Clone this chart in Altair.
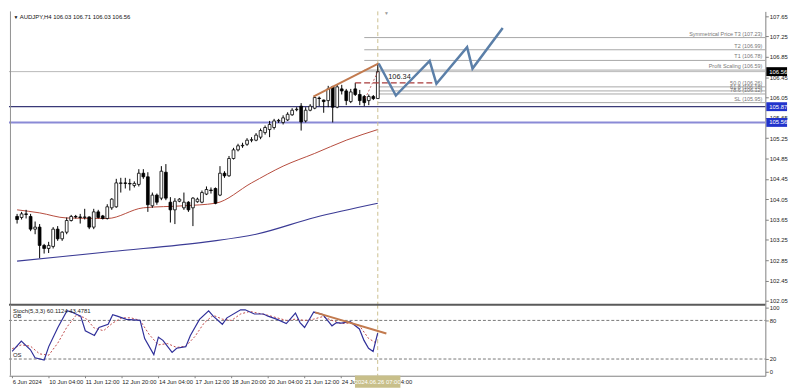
import altair as alt
import pandas as pd

W, H1, H2 = 766, 297, 72
FONT = "Liberation Sans"

# ---------------- data ----------------
bar_idx = list(range(81))
opens = [103.71, 103.69, 103.76, 103.71, 103.46, 103.50, 103.14, 103.08, 103.12, 103.46,
         103.27, 103.40, 103.63, 103.71, 103.70, 103.69, 103.70, 103.50, 103.80, 103.72,
         103.67, 103.88, 103.90, 104.36, 104.37, 104.36, 104.32, 104.34, 104.56, 104.49,
         103.92, 104.13, 104.07, 104.58, 103.99, 103.84, 104.01, 103.88, 103.99, 103.88,
         104.00, 103.99, 104.15, 104.23, 104.26, 104.13, 104.56, 104.51, 104.85, 105.02,
         105.10, 105.13, 105.21, 105.21, 105.27, 105.36, 105.42, 105.46, 105.59, 105.56,
         105.61, 105.71, 105.81, 105.88, 105.59, 105.80, 105.84, 106.04, 106.00, 105.99,
         106.26, 105.86, 106.22, 106.18, 105.97, 106.22, 106.11, 106.07, 105.99, 106.07,
         106.03]
highs = [103.76, 103.80, 103.84, 103.76, 103.61, 103.56, 103.17, 103.21, 103.50, 103.52,
         103.42, 103.69, 103.74, 103.74, 103.76, 103.86, 103.71, 103.86, 103.84, 103.74,
         103.95, 104.07, 104.45, 104.47, 104.47, 104.45, 104.40, 104.64, 104.64, 104.58,
         104.18, 104.16, 104.70, 104.74, 104.09, 104.07, 104.07, 104.18, 104.01, 104.09,
         104.08, 104.22, 104.30, 104.28, 104.28, 104.70, 104.60, 104.90, 105.06, 105.14,
         105.16, 105.25, 105.27, 105.35, 105.44, 105.50, 105.59, 105.63, 105.63, 105.70,
         105.76, 105.84, 105.86, 105.94, 105.86, 105.92, 106.08, 106.07, 106.01, 106.28,
         106.28, 106.30, 106.30, 106.22, 106.22, 106.34, 106.20, 106.10, 106.11, 106.10,
         106.71]
lows = [103.57, 103.65, 103.67, 103.42, 103.36, 102.89, 102.98, 102.99, 103.08, 103.23,
        103.23, 103.36, 103.61, 103.67, 103.57, 103.65, 103.46, 103.46, 103.67, 103.65,
        103.65, 103.84, 103.88, 104.18, 104.26, 104.22, 104.28, 104.30, 104.45, 103.80,
        103.88, 103.94, 104.03, 104.03, 103.59, 103.56, 103.99, 103.84, 103.80, 103.52,
        103.98, 103.97, 104.13, 104.16, 103.95, 104.11, 104.47, 104.49, 104.83, 104.99,
        105.06, 105.10, 105.17, 105.19, 105.23, 105.32, 105.27, 105.42, 105.55, 105.52,
        105.59, 105.69, 105.78, 105.40, 105.56, 105.78, 105.82, 105.88, 105.75, 105.86,
        105.56, 105.84, 106.11, 105.90, 105.94, 106.08, 105.90, 105.88, 105.90, 106.00,
        106.03]
closes = [103.65, 103.76, 103.75, 103.46, 103.50, 103.14, 103.08, 103.14, 103.46, 103.27,
          103.40, 103.63, 103.71, 103.70, 103.69, 103.70, 103.50, 103.80, 103.69, 103.67,
          103.90, 104.05, 104.37, 104.37, 104.36, 104.35, 104.36, 104.56, 104.49, 103.94,
          104.13, 103.99, 104.60, 104.07, 103.84, 104.01, 104.05, 103.99, 103.84, 104.07,
          104.05, 104.18, 104.24, 104.22, 103.97, 104.56, 104.51, 104.85, 105.02, 105.10,
          105.11, 105.21, 105.22, 105.31, 105.40, 105.46, 105.52, 105.59, 105.60, 105.65,
          105.72, 105.80, 105.82, 105.57, 105.80, 105.88, 106.05, 106.03, 105.97, 106.22,
          105.86, 106.26, 106.18, 105.99, 106.16, 106.11, 105.99, 105.95, 106.07, 106.03,
          106.56]

ma_red_idx = [0, 5, 11, 20, 28, 37, 44, 52, 59, 66, 73, 80]
ma_red = [103.84, 103.78, 103.68, 103.67, 103.88, 103.92, 103.97, 104.37, 104.70, 104.95, 105.21, 105.42]
ma_blue_idx = [0, 21, 42, 53, 66, 80]
ma_blue = [102.83, 103.02, 103.21, 103.36, 103.69, 103.97]

stoch_idx = [0, 2, 4, 5, 7, 8, 10, 12, 13, 15, 16, 18, 19, 21, 22, 23, 25, 28, 29, 31, 32, 33,
             35, 36, 38, 39, 41, 43, 44, 46, 47, 50, 51, 53, 55, 56, 58, 60, 62, 63, 64, 66,
             68, 70, 71, 72, 74, 76, 77, 78, 79, 80]
stoch_main = [31.8, 47.8, 34.3, 21.9, 18.4, 39.3, 69.0, 95.0, 93.0, 86.6, 64.0, 56.7, 69.0,
              74.0, 89.0, 86.6, 81.6, 80.0, 51.7, 26.9, 54.0, 49.0, 30.3, 36.8, 39.3, 56.7,
              81.6, 95.0, 86.6, 74.0, 84.0, 96.5, 96.5, 90.0, 90.0, 86.6, 81.6, 75.0, 91.5,
              76.6, 69.0, 93.0, 89.0, 71.6, 76.6, 75.8, 78.0, 66.7, 49.0, 36.8, 31.8, 60.1]
signal_idx = list(range(0, 81, 2))
stoch_signal = [36, 42, 40, 28, 26, 45, 70, 88, 84, 68, 64, 76, 84, 84, 80, 58, 42, 44, 38, 40,
                55, 76, 88, 82, 80, 90, 94, 91, 88, 84, 80, 82, 80, 82, 86, 80, 75, 76, 72, 52,
                43.5]

price_ticks = [102.05, 102.45, 102.85, 103.25, 103.65, 104.05, 104.45, 104.85,
               105.25, 105.65, 106.05, 106.45, 106.85, 107.25, 107.65]
time_tick_idx = [0, 8, 16, 24, 32, 40, 48, 56, 64, 72, 80]
time_labels = ["6 Jun 2024", "10 Jun 04:00", "11 Jun 12:00", "12 Jun 20:00", "14 Jun 04:00",
               "17 Jun 12:00", "18 Jun 20:00", "20 Jun 04:00", "21 Jun 12:00", "24 Jun 20:00",
               "26 Jun 04:00"]

full_line_prices = [106.56, 105.87, 105.56]
full_line_colors = ["#b8b8b8", "#3a3a78", "#8a8ad6"]
full_line_widths = [1, 1.2, 2]

level_prices = [107.23, 106.99, 106.78, 106.59, 106.26, 106.18, 106.12, 105.95]
level_labels = ["Symmetrical Price T3 (107.23)", "T2 (106.99)", "T1 (106.78)",
                "Profit Scaling (106.59)", "50.0 (106.26)", "61.8 (106.18)",
                "78.6 (106.12)", "SL (105.95)"]
level_start = [77, 77, 77, 77, 80, 80, 80, 80]

trend_idx = [65.7, 80.2]
trend_price = [106.07, 106.72]
dot_idx = [77.2, 80]
dot_price = [106.03, 106.56]
proj_idx = [80.2, 84, 91.5, 93, 99.8, 101, 107.7]
proj_price = [106.72, 106.09, 106.77, 106.32, 107.04, 106.62, 107.42]
stoch_trend_idx = [66.3, 81.9]
stoch_trend_val = [92.5, 59.7]

tag_prices = [106.56, 105.87, 105.56]
tag_colors = ["#000000", "#2233cc", "#2233cc"]

title_text = "AUDJPY,H4  106.03 106.71 106.03 106.56"
stoch_text = "Stoch(5,3,3) 60.1124 43.4781"
cursor_text = "2024.06.26 07:00"

# ---------------- scales / axes ----------------
xs = alt.Scale(domain=[-0.70, 164.85], nice=False, zero=False)
ys = alt.Scale(domain=[101.974, 107.745], nice=False, zero=False)
ss = alt.Scale(domain=[-6, 104.5], nice=False, zero=False)

price_axis = alt.Axis(orient="right", values=price_ticks, format=".2f", title=None, grid=False,
                      tickSize=3, tickColor="#808080", domainColor="#808080", labelFontSize=6,
                      labelColor="#222222", labelPadding=1, labelFont=FONT, labelOverlap=False)
stoch_axis = alt.Axis(orient="right", values=[0, 20, 80, 100], title=None, grid=False,
                      tickSize=3, tickColor="#808080", domainColor="#808080", labelFontSize=6,
                      labelColor="#222222", labelPadding=1, labelFont=FONT, labelOverlap=False,
                      labelFlush=False)
lab_expr = "[" + ",".join("'%s'" % s for s in time_labels) + "][round(datum.value/8)]"
time_axis = alt.Axis(values=time_tick_idx, labelExpr=lab_expr, title=None, grid=False,
                     labelAlign="left", labelFontSize=6, labelFont=FONT, labelColor="#222222",
                     tickSize=2, tickColor="#808080", domainColor="#808080", labelPadding=1,
                     labelOverlap=False, labelFlush=False)


def X(f):
    return alt.X(f"{f}:Q", scale=xs, axis=None, title=None)


def Y(f):
    return alt.Y(f"{f}:Q", scale=ys, axis=price_axis, title=None)


def XS(f):
    return alt.X(f"{f}:Q", scale=xs, axis=time_axis, title=None)


def YS(f):
    return alt.Y(f"{f}:Q", scale=ss, axis=stoch_axis, title=None)


# ---------------- main panel ----------------
df = pd.DataFrame(dict(i=bar_idx, o=opens, h=highs, l=lows, c=closes))

full_df = pd.DataFrame(dict(p=full_line_prices, col=full_line_colors, w=full_line_widths))
full_lines = alt.Chart(full_df).mark_rule().encode(
    x=alt.value(0), x2=alt.value(W), y=Y("p"),
    color=alt.Color("col:N", scale=None), strokeWidth=alt.StrokeWidth("w:Q", scale=None))

lv_df = pd.DataFrame(dict(p=level_prices, label=level_labels, s=level_start))
lv_lines = alt.Chart(lv_df).mark_rule(color="#a8a8a8", strokeWidth=1).encode(
    x=X("s"), x2=alt.value(W), y=Y("p"))
lv_text = alt.Chart(lv_df).mark_text(align="right", baseline="bottom", dy=-1, fontSize=5.5,
                                     font=FONT, color="#777777").encode(
    x=alt.value(W - 3), y=Y("p"), text="label:N")

red_df = pd.DataFrame(dict(i=ma_red_idx, p=ma_red))
red_ma = alt.Chart(red_df).mark_line(color="#b54a3c", strokeWidth=1, interpolate="monotone").encode(
    x=X("i"), y=Y("p"))
blue_df = pd.DataFrame(dict(i=ma_blue_idx, p=ma_blue))
blue_ma = alt.Chart(blue_df).mark_line(color="#3b3b95", strokeWidth=1.2, interpolate="monotone").encode(
    x=X("i"), y=Y("p"))

wicks = alt.Chart(df).mark_rule(color="black", strokeWidth=1).encode(x=X("i"), y=Y("l"), y2="h:Q")
bodies = alt.Chart(df).mark_bar(size=2.8, stroke="black", strokeWidth=0.8).encode(
    x=X("i"), y=Y("o"), y2="c:Q",
    fill=alt.condition("datum.c >= datum.o", alt.value("white"), alt.value("black")))

res_df = pd.DataFrame(dict(x0=[75], x1=[92.3], p=[106.34], tx=[82.3], t=["106.34"]))
res_line = alt.Chart(res_df).mark_rule(color="#a83a3a", strokeWidth=1.2, strokeDash=[6, 3]).encode(
    x=X("x0"), x2="x1:Q", y=Y("p"))
res_text = alt.Chart(res_df).mark_text(align="left", baseline="bottom", dy=-2, fontSize=7.5,
                                       font=FONT, color="#222222").encode(
    x=X("tx"), y=Y("p"), text="t:N")

trend = alt.Chart(pd.DataFrame(dict(i=trend_idx, p=trend_price))).mark_line(
    color="#c27a4e", strokeWidth=2).encode(x=X("i"), y=Y("p"))
dotted = alt.Chart(pd.DataFrame(dict(i=dot_idx, p=dot_price))).mark_line(
    color="#b04040", strokeWidth=0.8, strokeDash=[2, 2]).encode(x=X("i"), y=Y("p"))
proj = alt.Chart(pd.DataFrame(dict(i=proj_idx, p=proj_price))).mark_line(
    color="#5b7fa8", strokeWidth=2.5).encode(x=X("i"), y=Y("p"))

cursor_df = pd.DataFrame(dict(i=[80], t=[cursor_text]))
vline_main = alt.Chart(cursor_df).mark_rule(color="#cbbf8e", strokeWidth=1, strokeDash=[4, 3]).encode(
    x=X("i"), y=alt.value(0), y2=alt.value(H1))

tag_df = pd.DataFrame(dict(p=tag_prices, col=tag_colors, t=["%.2f" % v for v in tag_prices]))
tag_box = alt.Chart(tag_df).mark_rule(strokeWidth=9).encode(
    x=alt.value(W + 1), x2=alt.value(W + 22), y=Y("p"), color=alt.Color("col:N", scale=None))
tag_txt = alt.Chart(tag_df).mark_text(align="left", baseline="middle", fontSize=6, font=FONT,
                                      color="white").encode(
    x=alt.value(W + 4), y=Y("p"), text="t:N")

title_df = pd.DataFrame(dict(t=[title_text]))
title = alt.Chart(title_df).mark_text(align="left", baseline="middle", fontSize=6, font=FONT,
                                      color="#111111").encode(
    x=alt.value(11), y=alt.value(6), text="t:N")
tri = alt.Chart(pd.DataFrame(dict(t=["▼"]))).mark_text(fontSize=5, color="#111111").encode(
    x=alt.value(7), y=alt.value(6), text="t:N")
tri2 = alt.Chart(pd.DataFrame(dict(i=[81.9], t=["▼"]))).mark_text(fontSize=5, color="#999999",
                                                                   baseline="top").encode(
    x=X("i"), y=alt.value(0), text="t:N")
left_border = alt.Chart(title_df).mark_rule(color="#909090", strokeWidth=1).encode(
    x=alt.value(1.5), y=alt.value(0), y2=alt.value(H1))

main = alt.layer(
    full_lines, lv_lines, lv_text, red_ma, blue_ma, vline_main, wicks, bodies, res_line, res_text,
    trend, dotted, proj, tag_box, tag_txt, title, tri, tri2, left_border
).properties(width=W, height=H1)

# ---------------- stochastic panel ----------------
obos_df = pd.DataFrame(dict(v=[80, 20], t=["OB", "OS"]))
obos = alt.Chart(obos_df).mark_rule(color="#555555", strokeWidth=0.8, strokeDash=[3, 2]).encode(
    x=alt.value(0), x2=alt.value(W), y=YS("v"))
obos_txt = alt.Chart(obos_df).mark_text(align="left", baseline="bottom", dy=-1, fontSize=6,
                                        font=FONT, color="#222222").encode(
    x=alt.value(4), y=YS("v"), text="t:N")

sig = alt.Chart(pd.DataFrame(dict(i=signal_idx, v=stoch_signal))).mark_line(
    color="#c04848", strokeWidth=1, strokeDash=[2, 2]).encode(x=XS("i"), y=YS("v"))
mainline = alt.Chart(pd.DataFrame(dict(i=stoch_idx, v=stoch_main))).mark_line(
    color="#30309a", strokeWidth=1.2).encode(x=XS("i"), y=YS("v"))
st_trend = alt.Chart(pd.DataFrame(dict(i=stoch_trend_idx, v=stoch_trend_val))).mark_line(
    color="#c27a4e", strokeWidth=2).encode(x=XS("i"), y=YS("v"))

vline_st = alt.Chart(cursor_df).mark_rule(color="#cbbf8e", strokeWidth=1, strokeDash=[4, 3]).encode(
    x=XS("i"), y=alt.value(0), y2=alt.value(H2))
sep = alt.Chart(title_df).mark_rule(color="#5a5a5a", strokeWidth=2).encode(
    x=alt.value(0), x2=alt.value(W), y=alt.value(0))
left_border2 = alt.Chart(title_df).mark_rule(color="#909090", strokeWidth=1).encode(
    x=alt.value(1.5), y=alt.value(0), y2=alt.value(H2))
st_label = alt.Chart(pd.DataFrame(dict(t=[stoch_text]))).mark_text(
    align="left", baseline="middle", fontSize=6, font=FONT, color="#222222").encode(
    x=alt.value(4), y=alt.value(6), text="t:N")

box_path = "M-1,-0.27L1,-0.27L1,0.27L-1,0.27Z"
cur_box = alt.Chart(cursor_df).mark_point(shape=box_path, size=46 * 46, filled=True,
                                          fill="#c8bf8a", strokeWidth=0, opacity=1).encode(
    x=XS("i"), y=alt.value(H2 + 6))
cur_txt = alt.Chart(cursor_df).mark_text(fontSize=6, font=FONT, color="white",
                                         baseline="middle").encode(
    x=XS("i"), y=alt.value(H2 + 6), text="t:N")

stoch = alt.layer(
    obos, obos_txt, vline_st, sig, mainline, st_trend, sep, left_border2, st_label, cur_box, cur_txt
).properties(width=W, height=H2)

chart = alt.vconcat(main, stoch, spacing=0, bounds="flush").configure_view(stroke=None).properties(
    padding=0, background="white")

chart.save("out.html", embed_options={"renderer": "svg", "actions": False})
